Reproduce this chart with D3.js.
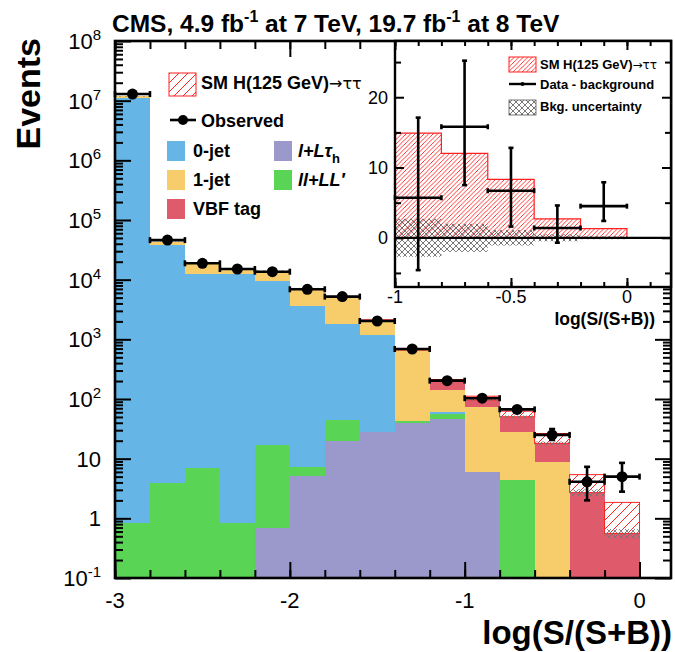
<!DOCTYPE html>
<html>
<head>
<meta charset="utf-8">
<script src="https://cdn.jsdelivr.net/npm/d3@7"></script>
<style>
  body { margin: 0; background: #fff; }
  svg { display: block; font-family: "Liberation Sans", Arial, Helvetica, sans-serif; }
</style>
</head>
<body>
<div id="chart"></div>
<script>
// ---- data ----
const binLo = [-3, -2.8, -2.6, -2.4, -2.2, -2, -1.8, -1.6, -1.4, -1.2, -1, -0.8, -0.6, -0.4, -0.2];
const binWidth = 0.2;

// background components, events per bin
const lLtau = [0, 0, 0, 0, 0.7, 5.2, 19.8, 27.7, 40, 45.7, 6.0, 0, 0, 0, 0];
const llLL  = [0.83, 3.86, 6.9, 0.83, 16.2, 2.0, 24.7, 0.3, 2.8, 9.7, 0, 4.4, 0, 0, 0];
const jet0  = [1.12e7, 3.77e4, 1.22e4, 1.25e4, 9.5e3, 3.6e3, 1.74e3, 1.15e3, 0, 5, 0, 0, 0, 0, 0];
const jet1  = [6e5, 5.6e3, 6.8e3, 3.0e3, 4.6e3, 3.6e3, 3.56e3, 950, 619, 81, 68.3, 23.9, 8.9, 0, 0];
const vbf   = [0, 0, 0, 0, 0, 0, 0, 0, 0, 67, 22, 22.2, 9.2, 2.7, 0.56];
const signal = [0, 0, 0, 0, 0, 0, 0, 0.5, 2, 4, 15, 12, 8.3, 2.7, 1.29];
const bkgUncRel = [0.01, 0.01, 0.01, 0.01, 0.01, 0.01, 0.01, 0.01, 0.01, 0.01, 0.03, 0.05, 0.07, 0.13, 0.18];

const observed = [1.29e7, 4.6e4, 1.88e4, 1.51e4, 1.36e4, 6.9e3, 5.2e3, 2.03e3, 689, 203, 103, 67, 25, 4.1, 5.0];
const obsErrLo = [3600, 214, 137, 123, 117, 83, 72, 45, 26, 14, 10, 8, 4.4, 2.1, 2.2];
const obsErrHi = [3600, 214, 137, 123, 117, 83, 72, 45, 26, 14, 10, 8.5, 6.4, 3.2, 3.5];

const xMajor = [-3, -2, -1, 0];
const yMajor = [0.1, 1, 10, 1e2, 1e3, 1e4, 1e5, 1e6, 1e7, 1e8];

// inset: data minus background
const insetLo = [-1, -0.8, -0.6, -0.4, -0.2];
const insetSignal = [14.9, 12.0, 8.3, 2.7, 1.3];
const insetDiff = [5.7, 15.8, 6.7, 1.4, 4.5];
const insetErrHi = [11.4, 9.4, 6.1, 3.2, 3.4];
const insetErrLo = [10.3, 8.3, 5.1, 2.1, 2.1];
const insetBkgUnc = [2.7, 2.0, 1.1, 0.5, 0.2];
const insetYLabels = [0, 10, 20];
const insetXLabels = [-1, -0.5, 0];

const COLORS = {
  jet0: "#65b5e6", jet1: "#f7cd6b", vbf: "#df5a6b",
  lLtau: "#9b99cb", llLL: "#5ad455"
};

// ---- layout ----
const WIDTH = 675, HEIGHT = 652;
const F = { left: 115, right: 671, top: 41, bottom: 578 };

const svg = d3.select("#chart").append("svg")
  .attr("width", WIDTH).attr("height", HEIGHT);

const defs = svg.append("defs");
function hatch(id, step, color, w) {
  defs.append("pattern").attr("id", id)
    .attr("patternUnits", "userSpaceOnUse")
    .attr("width", step).attr("height", step)
    .append("path")
    .attr("d", `M-1,1 L1,-1 M0,${step} L${step},0 M${step - 1},${step + 1} L${step + 1},${step - 1}`)
    .attr("stroke", color).attr("stroke-width", w);
}
hatch("hatchMain", 9, "#ff2020", 1);
hatch("hatchInset", 4.5, "#ff2020", 0.9);
function cross(id, step, color, w) {
  defs.append("pattern").attr("id", id)
    .attr("patternUnits", "userSpaceOnUse")
    .attr("width", step).attr("height", step)
    .append("path")
    .attr("d", `M0,0 L${step},${step} M0,${step} L${step},0`)
    .attr("stroke", color).attr("stroke-width", w).attr("fill", "none");
}
cross("crossMain", 6, "#777", 0.9);
cross("crossInset", 6, "#555", 0.8);

const x = d3.scaleLinear().domain([-3, 0.18]).range([F.left, F.right]);
const y = d3.scaleLog().domain([0.1, 1e8]).range([F.bottom, F.top]);
const ly = (v) => y(Math.max(v, 0.1));

// ---- stacked background ----
const keys = ["lLtau", "llLL", "jet0", "jet1", "vbf"];
const table = binLo.map((lo, i) => ({
  lo, lLtau: lLtau[i], llLL: llLL[i], jet0: jet0[i], jet1: jet1[i], vbf: vbf[i]
}));
const stack = d3.stack().keys(keys)(table);

const plot = svg.append("g");
stack.forEach((layer) => {
  plot.append("g").attr("fill", COLORS[layer.key])
    .selectAll("rect").data(layer).join("rect")
    .attr("shape-rendering", "crispEdges")
    .attr("x", (d) => x(d.data.lo))
    .attr("width", (d) => x(d.data.lo + binWidth) - x(d.data.lo))
    .attr("y", (d) => ly(d[1]))
    .attr("height", (d) => Math.max(0, ly(d[0]) - ly(d[1])));
});

const bkgTotal = binLo.map((_, i) => stack[stack.length - 1][i][1]);

// signal on top
plot.append("g").selectAll("rect").data(binLo).join("rect")
  .attr("x", (d) => x(d))
  .attr("width", (d) => x(d + binWidth) - x(d))
  .attr("y", (d, i) => ly(bkgTotal[i] + signal[i]))
  .attr("height", (d, i) => ly(bkgTotal[i]) - ly(bkgTotal[i] + signal[i]))
  .attr("fill", "url(#hatchMain)")
  .attr("stroke", (d, i) => signal[i] > 0 ? "#ff2020" : "none")
  .attr("stroke-width", 1);

// background uncertainty
plot.append("g").selectAll("rect").data(binLo).join("rect")
  .attr("x", (d) => x(d))
  .attr("width", (d) => x(d + binWidth) - x(d))
  .attr("y", (d, i) => ly(bkgTotal[i] * (1 + bkgUncRel[i])))
  .attr("height", (d, i) => ly(bkgTotal[i] * (1 - bkgUncRel[i])) - ly(bkgTotal[i] * (1 + bkgUncRel[i])))
  .attr("fill", "url(#crossMain)");

// observed
const obs = svg.append("g").attr("stroke", "#000").attr("stroke-width", 2.6);
binLo.forEach((lo, i) => {
  const cx = x(lo + binWidth / 2), cy = ly(observed[i]);
  const x0 = x(lo), x1 = x(lo + binWidth);
  obs.append("line").attr("x1", x0).attr("x2", x1).attr("y1", cy).attr("y2", cy);
  obs.append("line").attr("x1", x0).attr("x2", x0).attr("y1", cy - 3).attr("y2", cy + 3);
  obs.append("line").attr("x1", x1).attr("x2", x1).attr("y1", cy - 3).attr("y2", cy + 3);
  const yt = ly(observed[i] + obsErrHi[i]), yb = ly(observed[i] - obsErrLo[i]);
  obs.append("line").attr("x1", cx).attr("x2", cx).attr("y1", yt).attr("y2", yb);
  obs.append("line").attr("x1", cx - 3).attr("x2", cx + 3).attr("y1", yt).attr("y2", yt);
  obs.append("line").attr("x1", cx - 3).attr("x2", cx + 3).attr("y1", yb).attr("y2", yb);
  obs.append("circle").attr("cx", cx).attr("cy", cy).attr("r", 5.5)
    .attr("fill", "#000").attr("stroke", "none");
});

// ---- main axes ----
function tidy(g) {
  g.select(".domain").remove();
  g.selectAll("line").attr("stroke", "#000").attr("stroke-width", 2);
  g.selectAll("text").remove();
}
const xMinor = d3.range(-3, 0.19, 0.2).map((v) => +v.toFixed(1));
const yMinor = [];
yMajor.slice(0, -1).forEach((d) => { for (let k = 2; k <= 9; k++) yMinor.push(d * k); });

svg.append("g").attr("transform", `translate(0,${F.bottom})`)
  .call(d3.axisBottom(x).tickValues(xMajor).tickSize(-16)).call(tidy);
svg.append("g").attr("transform", `translate(0,${F.bottom})`)
  .call(d3.axisBottom(x).tickValues(xMinor).tickSize(-8)).call(tidy);
svg.append("g").attr("transform", `translate(0,${F.top})`)
  .call(d3.axisTop(x).tickValues(xMajor).tickSize(-16)).call(tidy);
svg.append("g").attr("transform", `translate(0,${F.top})`)
  .call(d3.axisTop(x).tickValues(xMinor).tickSize(-8)).call(tidy);
svg.append("g").attr("transform", `translate(${F.left},0)`)
  .call(d3.axisLeft(y).tickValues(yMajor).tickSize(-16)).call(tidy);
svg.append("g").attr("transform", `translate(${F.left},0)`)
  .call(d3.axisLeft(y).tickValues(yMinor).tickSize(-8)).call(tidy);
svg.append("g").attr("transform", `translate(${F.right},0)`)
  .call(d3.axisRight(y).tickValues(yMajor).tickSize(-16)).call(tidy);
svg.append("g").attr("transform", `translate(${F.right},0)`)
  .call(d3.axisRight(y).tickValues(yMinor).tickSize(-8)).call(tidy);

svg.append("rect")
  .attr("x", F.left).attr("y", F.top)
  .attr("width", F.right - F.left).attr("height", F.bottom - F.top)
  .attr("fill", "none").attr("stroke", "#000").attr("stroke-width", 2.6);

// x tick labels
svg.append("g").selectAll("text").data(xMajor).join("text")
  .attr("x", (d) => x(d)).attr("y", 608)
  .attr("text-anchor", "middle")
  .style("font-size", "22px")
  .text((d) => d);

// y tick labels with exponents
const yl = svg.append("g").style("font-size", "22px").attr("text-anchor", "end");
yMajor.forEach((v) => {
  const e = Math.round(Math.log10(v));
  const t = yl.append("text").attr("x", 101).attr("y", y(v) + 8);
  if (e === 0) t.text("1");
  else if (e === 1) t.text("10");
  else {
    t.append("tspan").text("10");
    t.append("tspan").attr("dy", -9).style("font-size", "15px").text(e);
  }
});

// titles
const title = svg.append("text").attr("x", 112).attr("y", 32)
  .style("font-size", "24.5px").style("font-weight", "bold");
title.append("tspan").text("CMS, 4.9 fb");
title.append("tspan").attr("dy", -10).style("font-size", "16px").text("-1");
title.append("tspan").attr("dy", 10).text(" at 7 TeV, 19.7 fb");
title.append("tspan").attr("dy", -10).style("font-size", "16px").text("-1");
title.append("tspan").attr("dy", 10).text(" at 8 TeV");

svg.append("text")
  .attr("transform", "translate(40,38) rotate(-90)")
  .attr("text-anchor", "end")
  .style("font-size", "34px").style("font-weight", "bold")
  .text("Events");

svg.append("text")
  .attr("x", 672).attr("y", 644)
  .attr("text-anchor", "end")
  .style("font-size", "33px").style("font-weight", "bold")
  .text("log(S/(S+B))");

// ---- main legend ----
const leg = svg.append("g").style("font-size", "18px").style("font-weight", "bold");
leg.append("rect").attr("x", 169).attr("y", 73).attr("width", 27).attr("height", 23)
  .attr("fill", "url(#hatchMain)").attr("stroke", "#ff2020").attr("stroke-width", 1);
const sm = leg.append("text").attr("x", 201).attr("y", 89);
sm.append("tspan").text("SM H(125 GeV)");
sm.append("tspan").style("font-weight", "normal").style("font-family", "DejaVu Sans")
  .style("font-size", "16px").text("\u2192\u03c4\u03c4");

leg.append("line").attr("x1", 170).attr("x2", 196).attr("y1", 120).attr("y2", 120)
  .attr("stroke", "#000").attr("stroke-width", 2.6);
leg.append("circle").attr("cx", 183).attr("cy", 120).attr("r", 5).attr("fill", "#000");
leg.append("text").attr("x", 201).attr("y", 127).text("Observed");

const boxes = [
  { c: COLORS.jet0, bx: 167, by: 141, tx: 193, label: "0-jet" },
  { c: COLORS.jet1, bx: 167, by: 170, tx: 193, label: "1-jet" },
  { c: COLORS.vbf, bx: 167, by: 199, tx: 193, label: "VBF tag" }
];
boxes.forEach((b) => {
  leg.append("rect").attr("x", b.bx).attr("y", b.by).attr("width", 18).attr("height", 20).attr("fill", b.c);
  leg.append("text").attr("x", b.tx).attr("y", b.by + 16).text(b.label);
});
leg.append("rect").attr("x", 274).attr("y", 141).attr("width", 18).attr("height", 20).attr("fill", COLORS.lLtau);
const lt = leg.append("text").attr("x", 298).attr("y", 157).style("font-style", "italic");
lt.append("tspan").text("l+L\u03c4");
lt.append("tspan").attr("dy", 6).style("font-size", "13px").style("font-style", "normal").text("h");
leg.append("rect").attr("x", 274).attr("y", 170).attr("width", 18).attr("height", 20).attr("fill", COLORS.llLL);
leg.append("text").attr("x", 298).attr("y", 186).style("font-style", "italic").text("ll+LL\u2032");

// ---- inset ----
const I = { left: 395, right: 671, top: 41, bottom: 287 };
const ix = d3.scaleLinear().domain([-1, 0.19]).range([I.left, I.right]);
const iy = d3.scaleLinear().domain([-7, 28]).range([I.bottom, I.top]);
const inset = svg.append("g");
inset.append("rect").attr("x", I.left).attr("y", I.top)
  .attr("width", I.right - I.left).attr("height", I.bottom - I.top).attr("fill", "#fff");

inset.append("g").selectAll("rect").data(insetLo).join("rect")
  .attr("x", (d) => ix(d)).attr("width", (d) => ix(d + binWidth) - ix(d))
  .attr("y", (d, i) => iy(insetSignal[i]))
  .attr("height", (d, i) => iy(0) - iy(insetSignal[i]))
  .attr("fill", "url(#hatchInset)");
const step = [[ix(-1), iy(-7)]];
insetLo.forEach((lo, i) => {
  step.push([ix(lo), iy(insetSignal[i])], [ix(lo + binWidth), iy(insetSignal[i])]);
});
step.push([ix(0), iy(0)]);
inset.append("path").attr("d", d3.line()(step))
  .attr("fill", "none").attr("stroke", "#ff2020").attr("stroke-width", 1.2);

inset.append("g").selectAll("rect").data(insetLo).join("rect")
  .attr("x", (d) => ix(d)).attr("width", (d) => ix(d + binWidth) - ix(d))
  .attr("y", (d, i) => iy(insetBkgUnc[i]))
  .attr("height", (d, i) => iy(-insetBkgUnc[i]) - iy(insetBkgUnc[i]))
  .attr("fill", "url(#crossInset)");

inset.append("line").attr("x1", I.left).attr("x2", I.right)
  .attr("y1", iy(0)).attr("y2", iy(0)).attr("stroke", "#000").attr("stroke-width", 2.2);

const ip = inset.append("g").attr("stroke", "#000").attr("stroke-width", 2.6);
insetLo.forEach((lo, i) => {
  const cx = ix(lo + binWidth / 2), cy = iy(insetDiff[i]);
  const x0 = ix(lo), x1 = ix(lo + binWidth);
  const yt = iy(insetDiff[i] + insetErrHi[i]), yb = iy(insetDiff[i] - insetErrLo[i]);
  ip.append("line").attr("x1", x0).attr("x2", x1).attr("y1", cy).attr("y2", cy);
  ip.append("line").attr("x1", cx).attr("x2", cx).attr("y1", yt).attr("y2", yb);
  [x0, x1].forEach((xx) => ip.append("line").attr("x1", xx).attr("x2", xx).attr("y1", cy - 2.5).attr("y2", cy + 2.5));
  [yt, yb].forEach((yy) => ip.append("line").attr("x1", cx - 2.5).attr("x2", cx + 2.5).attr("y1", yy).attr("y2", yy));
});

// inset axes
const iyMinor = [-5, 5, 15, 25];
const ixMinor = d3.range(-1, 0.19, 0.1).map((v) => +v.toFixed(1));
inset.append("g").attr("transform", `translate(${I.left},0)`)
  .call(d3.axisLeft(iy).tickValues(insetYLabels).tickSize(-9)).call(tidy);
inset.append("g").attr("transform", `translate(${I.left},0)`)
  .call(d3.axisLeft(iy).tickValues(iyMinor).tickSize(-6)).call(tidy);
inset.append("g").attr("transform", `translate(${I.right},0)`)
  .call(d3.axisRight(iy).tickValues(insetYLabels).tickSize(-9)).call(tidy);
inset.append("g").attr("transform", `translate(${I.right},0)`)
  .call(d3.axisRight(iy).tickValues(iyMinor).tickSize(-6)).call(tidy);
inset.append("g").attr("transform", `translate(0,${I.bottom})`)
  .call(d3.axisBottom(ix).tickValues(insetXLabels).tickSize(-9)).call(tidy);
inset.append("g").attr("transform", `translate(0,${I.bottom})`)
  .call(d3.axisBottom(ix).tickValues(ixMinor).tickSize(-5)).call(tidy);
inset.append("g").attr("transform", `translate(0,${I.top})`)
  .call(d3.axisTop(ix).tickValues(insetXLabels).tickSize(-9)).call(tidy);
inset.append("g").attr("transform", `translate(0,${I.top})`)
  .call(d3.axisTop(ix).tickValues(ixMinor).tickSize(-5)).call(tidy);

inset.append("rect").attr("x", I.left).attr("y", I.top)
  .attr("width", I.right - I.left).attr("height", I.bottom - I.top)
  .attr("fill", "none").attr("stroke", "#000").attr("stroke-width", 2.4);

inset.append("g").style("font-size", "18px").attr("text-anchor", "end")
  .selectAll("text").data(insetYLabels).join("text")
  .attr("x", 388).attr("y", (d) => iy(d) + 6.5).text((d) => d);
inset.append("g").style("font-size", "18px").attr("text-anchor", "middle")
  .selectAll("text").data(insetXLabels).join("text")
  .attr("x", (d) => ix(d)).attr("y", 303).text((d) => d);
inset.append("text").attr("x", 655).attr("y", 325).attr("text-anchor", "end")
  .style("font-size", "17.5px").style("font-weight", "bold").text("log(S/(S+B))");

// inset legend
const il = inset.append("g").style("font-size", "13px").style("font-weight", "bold");
il.append("rect").attr("x", 509).attr("y", 57).attr("width", 27).attr("height", 15)
  .attr("fill", "url(#hatchInset)").attr("stroke", "#ff2020").attr("stroke-width", 1);
const ils = il.append("text").attr("x", 540).attr("y", 69);
ils.append("tspan").text("SM H(125 GeV)");
ils.append("tspan").style("font-weight", "normal").style("font-family", "DejaVu Sans")
  .style("font-size", "12px").text("\u2192\u03c4\u03c4");
il.append("line").attr("x1", 509).attr("x2", 536).attr("y1", 84).attr("y2", 84)
  .attr("stroke", "#000").attr("stroke-width", 2.4);
il.append("circle").attr("cx", 522.5).attr("cy", 84).attr("r", 2).attr("fill", "#000");
il.append("text").attr("x", 540).attr("y", 89).text("Data - background");
il.append("rect").attr("x", 509).attr("y", 100).attr("width", 27).attr("height", 15)
  .attr("fill", "url(#crossInset)").attr("stroke", "#555").attr("stroke-width", 0.8);
il.append("text").attr("x", 540).attr("y", 111).text("Bkg. uncertainty");
</script>
</body>
</html>
